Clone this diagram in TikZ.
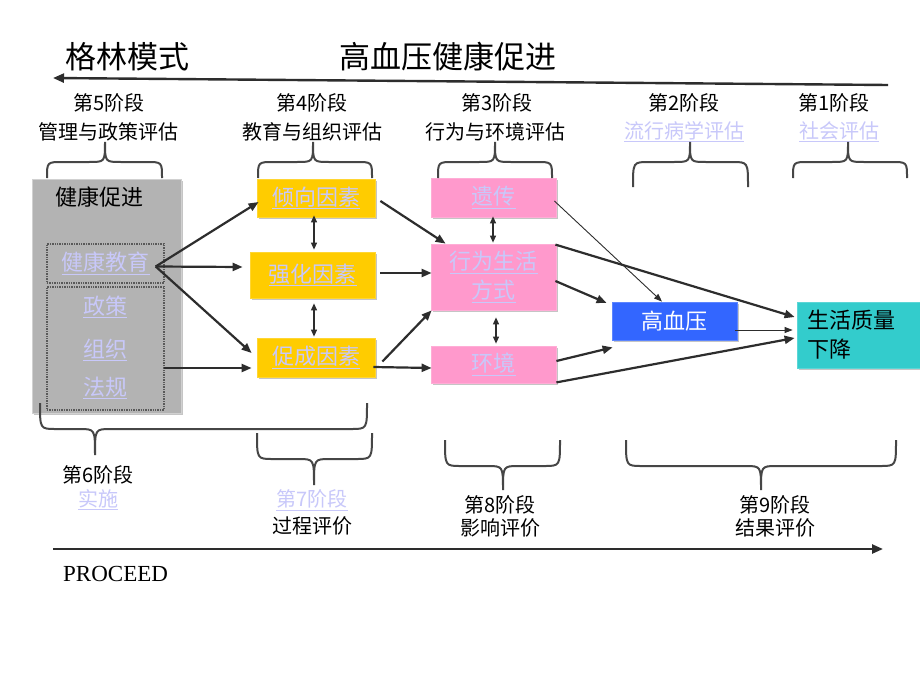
\documentclass[tikz,border=0pt]{standalone}
\usepackage{fontspec}
\setmainfont{Noto Sans CJK SC}
\newfontfamily\procfont{Liberation Serif}
\usetikzlibrary{arrows.meta,shadows,calc}
\definecolor{linkc}{RGB}{200,200,250}
\definecolor{ybox}{RGB}{255,204,0}
\definecolor{pbox}{RGB}{255,153,204}
\definecolor{bbox}{RGB}{51,102,255}
\definecolor{tbox}{RGB}{51,204,204}
\definecolor{gbox}{RGB}{179,179,179}
\definecolor{arr}{RGB}{45,45,45}
\definecolor{brcol}{RGB}{70,70,70}
\newcommand{\lnk}[1]{\textcolor{linkc}{\underline{#1}}}
\newcommand{\mybrace}[6]{%
\draw[bracestyle] (#1,#4) .. controls (#1,#5) .. ({#1+16},#5) -- ({#2-16},#5) .. controls (#2,#5) .. (#2,#6) .. controls (#2,#5) .. ({#2+16},#5) -- ({#3-16},#5) .. controls (#3,#5) .. (#3,#4);}
\tikzset{
  boxbase/.style={inner sep=0pt, font=\fontsize{22}{29}\selectfont,
    drop shadow={shadow xshift=1.5pt,shadow yshift=-1.5pt,fill=black!45,opacity=.5}},
  gbx/.style={boxbase, fill=gbox, draw=gbox!60!white, line width=1pt},
  ibx/.style={inner sep=0pt, font=\fontsize{22}{29}\selectfont, draw=gray!70!black, densely dotted, line width=1.4pt},
  ybx/.style={boxbase, fill=ybox, draw=ybox!80!white, line width=0.8pt},
  pbx/.style={boxbase, fill=pbox, draw=pbox!80!white, line width=0.8pt},
  bbx/.style={boxbase, fill=bbox, draw=bbox!80!white, line width=0.8pt, text=white},
  tbx/.style={boxbase, fill=tbox, draw=tbox!80!white, line width=0.8pt},
  btxt/.style={inner sep=0pt, font=\fontsize{22}{29}\selectfont},
  lbl/.style={inner sep=0pt, font=\fontsize{20}{24}\selectfont},
  ttl/.style={inner sep=0pt, font=\fontsize{31}{36}\selectfont},
  arw/.style={draw=arr, line width=2.2pt, -{Triangle[length=10pt,width=8pt]}},
  tarw/.style={draw=arr, line width=0.9pt, -{Triangle[length=8pt,width=6pt]}},
  dbl/.style={draw=arr, line width=1.1pt, {Triangle[length=7pt,width=6pt]}-{Triangle[length=7pt,width=6pt]}},
  axis/.style={draw=arr, line width=2.4pt, -{Triangle[length=11pt,width=9pt]}},
  bracestyle/.style={draw=brcol, line width=2pt},
}
\begin{document}
\begin{tikzpicture}[x=1pt,y=-1pt]
\fill[white] (0,0) rectangle (920,690);
\useasboundingbox (0,0) rectangle (920,690);

% titles
\node[ttl] (t1) at (127.5,57) {格林模式};
\node[ttl] (t2) at (447.5,57) {高血压健康促进};
\coordinate (tR) at (888,85);
\coordinate (tL) at (53,78);
\draw[axis] (tR) -- (tL);

% top stage labels
\node[lbl] (s5a) at (109,103) {第5阶段};
\node[lbl] (s5b) at (108,131.5) {管理与政策评估};
\node[lbl] (s4a) at (312,103) {第4阶段};
\node[lbl] (s4b) at (312,131.5) {教育与组织评估};
\node[lbl] (s3a) at (497,103) {第3阶段};
\node[lbl] (s3b) at (495,131.5) {行为与环境评估};
\node[lbl] (s2a) at (684,103) {第2阶段};
\node[lbl] (s2b) at (684,131.5) {\lnk{流行病学评估}};
\node[lbl] (s1a) at (834,103) {第1阶段};
\node[lbl] (s1b) at (839,131.5) {\lnk{社会评估}};

% boxes
\node[gbx, minimum width=149pt, minimum height=234pt] (hp) at (106.5,296) {};
\node[btxt] (hpt) at (99.5,197) {健康促进};
\node[ibx, minimum width=117pt, minimum height=39pt] (edu) at (105.5,263.5) {\lnk{健康教育}};
\node[ibx, minimum width=117pt, minimum height=123pt] (pol) at (105.5,348.5) {};
\node[btxt] (pol1) at (105,307) {\lnk{政策}};
\node[btxt] (pol2) at (105,350) {\lnk{组织}};
\node[btxt] (pol3) at (105,388) {\lnk{法规}};

\node[ybx, minimum width=118pt, minimum height=38pt] (qx) at (316,198) {\lnk{倾向因素}};
\node[ybx, minimum width=125pt, minimum height=46pt] (qh) at (312.5,275) {\lnk{强化因素}};
\node[ybx, minimum width=118pt, minimum height=39pt] (cc) at (316,357.5) {\lnk{促成因素}};

\node[pbx, minimum width=125pt, minimum height=39pt] (yc) at (493.5,197.5) {\lnk{遗传}};
\node[pbx, minimum width=125pt, minimum height=66pt, align=center] (xw) at (493.5,277) {\lnk{行为生活}\\\lnk{方式}};
\node[pbx, minimum width=125pt, minimum height=37pt] (hj) at (493.5,364.5) {\lnk{环境}};

\node[bbx, minimum width=125pt, minimum height=38pt] (gxy) at (674.5,321) {高血压};
\node[tbx, minimum width=123pt, minimum height=66pt, text width=103pt, align=left] (shq) at (858.5,335) {生活质量\\下降};

% arrows
\draw[arw] ($(edu.east)+(-9,3)$) -- ($(qx.west)+(2,4)$);
\draw[arw] ($(edu.east)+(-9,3)$) -- ($(qh.west)+(-7,-8)$);
\draw[arw] ($(edu.east)+(-9,3)$) -- ($(cc.west)+(-5,-4.5)$);
\draw[arw] ($(pol.east)+(-1,19.5)$) -- ($(cc.west)+(-5,10.5)$);
\draw[dbl] ($(qx.south)+(-2,-2)$) -- ($(qh.north)+(1.5,-2)$);
\draw[dbl] ($(qh.south)+(1.5,5)$) -- ($(cc.north)+(-2,-1)$);
\draw[arw] ($(qx.east)+(5,3)$) -- ($(xw.north west)+(15,0)$);
\draw[arw] ($(qh.east)+(5,-2)$) -- ($(xw.west)+(1,-4)$);
\draw[arw] ($(cc.east)+(7,4)$) -- ($(xw.south west)+(1,0)$);
\draw[arw] ($(cc.east)+(-2,9.5)$) -- ($(hj.west)+(1,3.5)$);
\draw[dbl] ($(yc.south)+(-0.5,-1)$) -- ($(xw.north)+(-0.5,-1)$);
\draw[dbl] ($(xw.south)+(2.5,7)$) -- ($(hj.north)+(2.5,-2)$);
\draw[tarw] ($(yc.east)+(-2,3.5)$) -- ($(gxy.north)+(-12.5,0)$);
\draw[arw] ($(xw.east)+(-1,4)$) -- ($(gxy.west)+(-5,-18)$);
\draw[arw] ($(xw.north east)+(-1,1)$) -- ($(shq.west)+(-2,-18)$);
\draw[tarw] ($(gxy.east)+(-2,9)$) -- ($(shq.west)+(-4,-5)$);
\draw[arw] ($(hj.east)+(0,-3.5)$) -- ($(gxy.south west)+(1,7)$);
\draw[arw] ($(hj.south east)+(0,-1)$) -- ($(shq.west)+(-2,3)$);

% top braces
\mybrace{47}{105}{162}{178}{162}{142}
\mybrace{258}{313}{372}{178}{162}{142}
\mybrace{438}{495}{552}{178}{162}{142}
\mybrace{633}{690}{748}{187}{162}{142}
\mybrace{793}{848}{907}{178}{162}{142}

% bottom braces
\mybrace{40}{95}{367}{403}{429}{455}
\mybrace{257}{314}{372}{433}{459}{485}
\mybrace{445}{503}{560}{440}{466}{490}
\mybrace{626}{761}{896}{440}{466}{490}

% bottom labels
\node[lbl] (s6a) at (98,475) {第6阶段};
\node[lbl] (s6b) at (98,500) {\lnk{实施}};
\node[lbl] (s7a) at (312,500) {\lnk{第7阶段}};
\node[lbl] (s7b) at (312,526) {过程评价};
\node[lbl] (s8a) at (500,505) {第8阶段};
\node[lbl] (s8b) at (500,528) {影响评价};
\node[lbl] (s9a) at (775,505) {第9阶段};
\node[lbl] (s9b) at (775,528) {结果评价};

\coordinate (bL) at (53,549);
\coordinate (bR) at (883,549);
\draw[axis] (bL) -- (bR);
\node[inner sep=0pt, anchor=west, font=\procfont\fontsize{23}{27}\selectfont] (proc) at (63,574) {PROCEED};
\end{tikzpicture}
\end{document}
